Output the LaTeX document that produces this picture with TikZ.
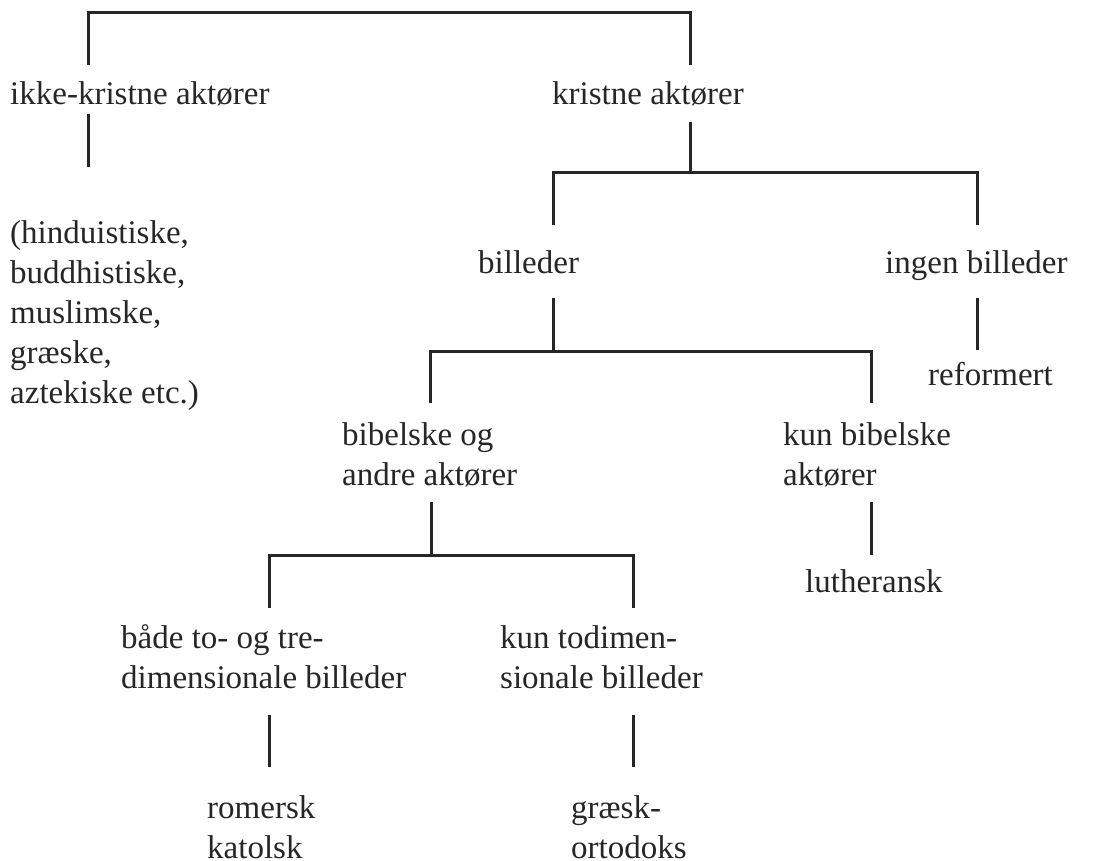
\documentclass[tikz,border=0pt]{standalone}
\usepackage{fontspec}
\setmainfont{Liberation Serif}

\begin{document}
\begin{tikzpicture}[x=1pt,y=-1pt,
    branchline/.style={line width=3pt,color=black!85},
    txt/.style={anchor=base west,inner sep=0pt,align=left,font=\fontsize{33}{40}\selectfont,text=black!85}]
      \useasboundingbox (0,0) rectangle (1105,861);

      \node[txt] (ikke) at (10,105) {ikke-kristne aktører};
      \node[txt] (kristne) at (552,105) {kristne aktører};
      \node[txt] (hindu) at (10,403) {(hinduistiske,\\buddhistiske,\\muslimske,\\græske,\\aztekiske etc.)};
      \node[txt] (billeder) at (478,273) {billeder};
      \node[txt] (ingen) at (885,273) {ingen billeder};
      \node[txt] (reformert) at (928,385) {reformert};
      \node[txt] (bibandre) at (342,485) {bibelske og\\andre aktører};
      \node[txt] (kunbib) at (783,485) {kun bibelske\\aktører};
      \node[txt] (luther) at (805,592) {lutheransk};
      \node[txt] (baade) at (121,688) {både to- og tre-\\dimensionale billeder};
      \node[txt] (todim) at (500,688) {kun todimen-\\sionale billeder};
      \node[txt] (romersk) at (207,858) {romersk\\katolsk};
      \node[txt] (graesk) at (571,858) {græsk-\\ortodoks};

      \coordinate (top) at (0,13);
      \coordinate (ikke-in) at (88,65);
      \coordinate (ikke-out) at (88,114);
      \coordinate (hindu-in) at (88,167);
      \coordinate (kristne-in) at (690,65);
      \coordinate (kristne-out) at (690,122);
      \coordinate (fork1) at (690,173);
      \coordinate (billeder-in) at (553,225);
      \coordinate (billeder-out) at (553,298);
      \coordinate (fork2) at (553,351);
      \coordinate (ingen-in) at (977,225);
      \coordinate (ingen-out) at (977,298);
      \coordinate (reformert-in) at (977,350);
      \coordinate (bibandre-in) at (430,403);
      \coordinate (bibandre-out) at (431,502);
      \coordinate (fork3) at (431,555);
      \coordinate (kunbib-in) at (871,403);
      \coordinate (kunbib-out) at (871,502);
      \coordinate (luther-in) at (871,555);
      \coordinate (baade-in) at (269,608);
      \coordinate (baade-out) at (269,715);
      \coordinate (romersk-in) at (269,767);
      \coordinate (todim-in) at (633,608);
      \coordinate (todim-out) at (633,715);
      \coordinate (graesk-in) at (633,767);

      \draw[branchline] (ikke-in) -- (ikke-in |- top) -- (kristne-in |- top) -- (kristne-in);
      \draw[branchline] (ikke-out) -- (hindu-in);
      \draw[branchline] (kristne-out) -- (fork1);
      \draw[branchline] (billeder-in) |- (fork1) -| (ingen-in);
      \draw[branchline] (billeder-out) -- (fork2);
      \draw[branchline] (bibandre-in) |- (fork2) -| (kunbib-in);
      \draw[branchline] (ingen-out) -- (reformert-in);
      \draw[branchline] (bibandre-out) -- (fork3);
      \draw[branchline] (baade-in) |- (fork3) -| (todim-in);
      \draw[branchline] (kunbib-out) -- (luther-in);
      \draw[branchline] (baade-out) -- (romersk-in);
      \draw[branchline] (todim-out) -- (graesk-in);
    \end{tikzpicture}
\end{document}
